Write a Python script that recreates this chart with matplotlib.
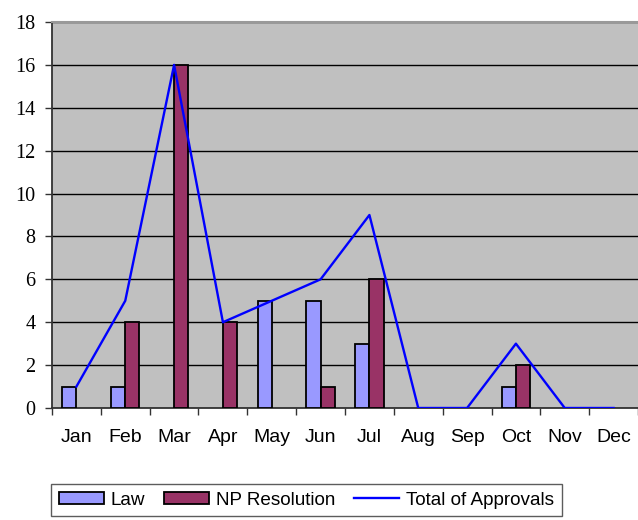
import matplotlib
matplotlib.use("Agg")
import matplotlib.pyplot as plt
import numpy as np
from matplotlib.patches import Patch
from matplotlib.lines import Line2D

months = ["Jan", "Feb", "Mar", "Apr", "May", "Jun", "Jul", "Aug", "Sep", "Oct", "Nov", "Dec"]
law = [1, 1, 0, 0, 5, 5, 3, 0, 0, 1, 0, 0]
np_resolution = [0, 4, 16, 4, 0, 1, 6, 0, 0, 2, 0, 0]
total = [1, 5, 16, 4, 5, 6, 9, 0, 0, 3, 0, 0]
yticks = [0, 2, 4, 6, 8, 10, 12, 14, 16, 18]

law_color = "#9999FF"
np_color = "#993366"
line_color = "#0000FF"

fig = plt.figure(figsize=(6.38, 5.2), dpi=100)
ax = fig.add_axes([52/638, 1 - 408/520, 1 - 52/638, (408 - 22)/520])
ax.set_facecolor("#C0C0C0")

x = np.arange(len(months))
w = 0.29
law_h = [v if v > 0 else np.nan for v in law]
np_h = [v if v > 0 else np.nan for v in np_resolution]
ax.bar(x - w/2, law_h, width=w, color=law_color, edgecolor="black", linewidth=1.3, zorder=3)
ax.bar(x + w/2, np_h, width=w, color=np_color, edgecolor="black", linewidth=1.3, zorder=3)
ax.plot(x, total, color=line_color, linewidth=1.7, zorder=4)

ax.set_ylim(0, 18)
ax.set_xlim(-0.5, 11.39)
ax.set_yticks(yticks)
ax.set_yticklabels([str(v) for v in yticks], family="Liberation Serif", fontsize=14.5)
ax.yaxis.grid(True, color="black", linewidth=1.0, zorder=1)
ax.set_axisbelow(True)

ax.set_xticks(x)
ax.set_xticklabels(months, family="Liberation Sans", fontsize=14)
ax.set_xticks(np.arange(-0.5, 12, 1), minor=True)
ax.tick_params(axis="x", which="major", length=0, pad=15)
ax.tick_params(axis="x", which="minor", length=5, width=1, color="#333333", direction="out")
ax.tick_params(axis="y", length=5, width=1, color="#333333", direction="out", pad=7)

for s in ["left", "bottom"]:
    ax.spines[s].set_color("#333333")
    ax.spines[s].set_linewidth(1.3)
ax.spines["top"].set_color("#999999")
ax.spines["top"].set_linewidth(1.5)
ax.spines["right"].set_visible(False)

handles = [
    Patch(facecolor=law_color, edgecolor="black", linewidth=1.3, label="Law"),
    Patch(facecolor=np_color, edgecolor="black", linewidth=1.3, label="NP Resolution"),
    Line2D([0], [0], color=line_color, linewidth=1.7, label="Total of Approvals"),
]
leg = fig.legend(handles=handles, loc="upper left", bbox_to_anchor=(51/638, 1 - 484/520),
                 ncol=3, frameon=True, fancybox=False, prop={"family": "Liberation Sans", "size": 13.6},
                 handlelength=2.4, handleheight=0.65, handletextpad=0.35, columnspacing=1.0,
                 borderpad=0.4, borderaxespad=0)
leg.get_frame().set_edgecolor("#333333")
leg.get_frame().set_linewidth(1.0)

fig.savefig("out.png", dpi=100)
